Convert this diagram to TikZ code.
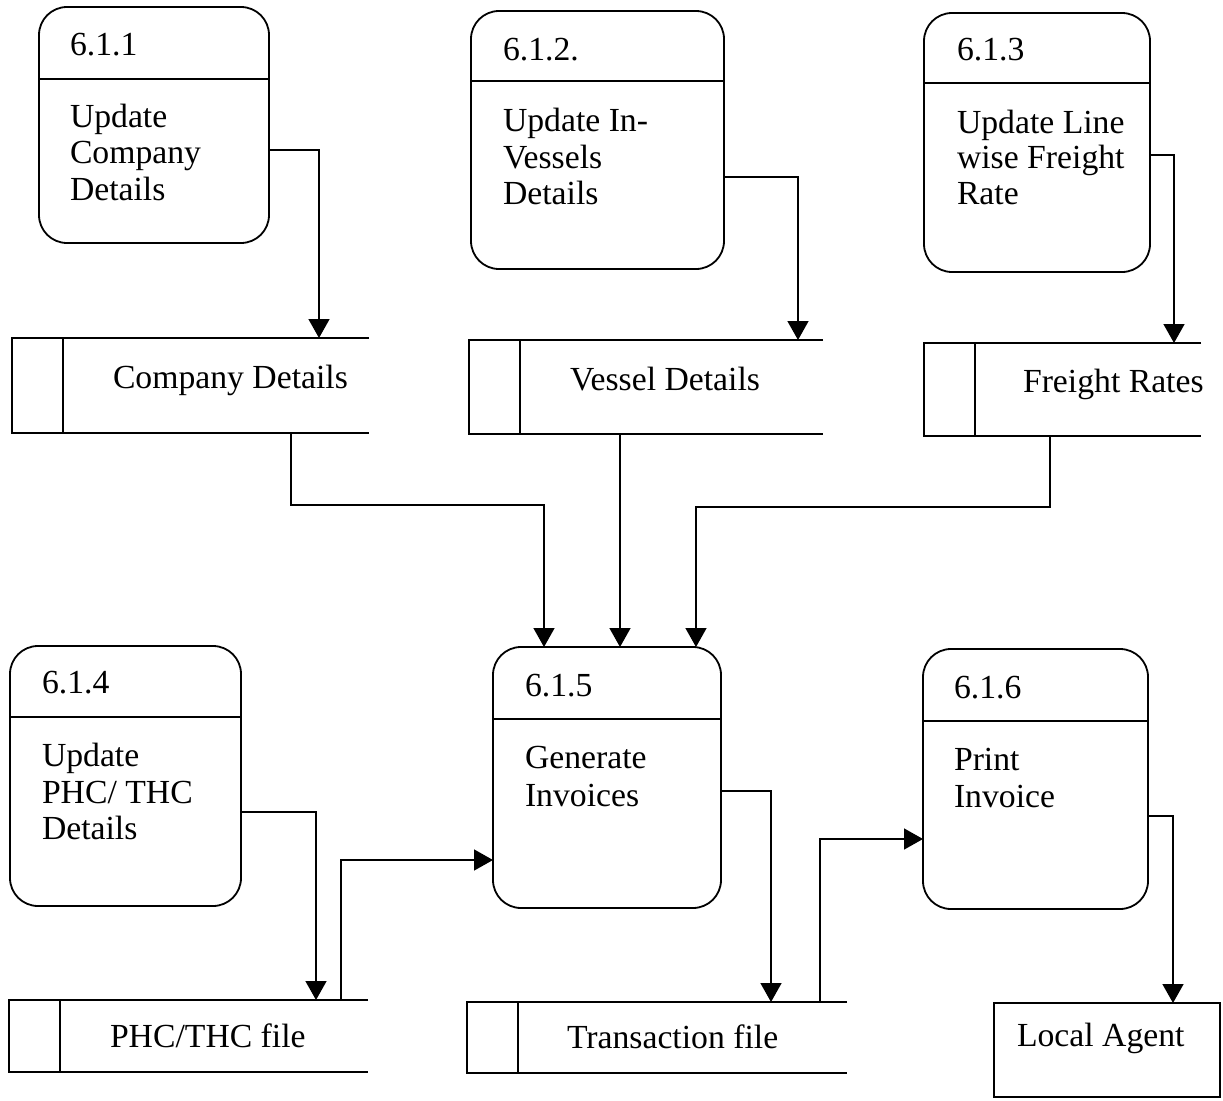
\documentclass[tikz,border=0pt]{standalone}
\usepackage{fontspec}
\setmainfont{Liberation Serif}
\usetikzlibrary{arrows.meta}

\tikzset{
  proc/.style={draw, line width=1.8pt, rounded corners=28pt, inner sep=0pt, outer sep=0pt},
  storebox/.style={inner sep=0pt, outer sep=0pt},
  storeline/.style={line width=1.8pt},
  entity/.style={draw, line width=1.8pt, inner sep=0pt, outer sep=0pt},
  divider/.style={line width=1.6pt},
  lbl/.style={font=\fontsize{33.7}{36}\selectfont, inner sep=0pt, outer sep=0pt, anchor=base west},
  flow/.style={line width=1.5pt, -{Triangle[length=19pt,width=21pt]}},
}

\begin{document}
\begin{tikzpicture}[x=1pt, y=-1pt]
\useasboundingbox[fill=white] (0,0) rectangle (1223,1100);

% ---------- processes ----------
\node[proc, minimum width=230pt, minimum height=236pt] (p1) at (154,125) {};
\node[proc, minimum width=253pt, minimum height=258pt] (p2) at (597.5,140) {};
\node[proc, minimum width=226pt, minimum height=259pt] (p3) at (1037,142.5) {};
\node[proc, minimum width=231pt, minimum height=260pt] (p4) at (125.5,776) {};
\node[proc, minimum width=228pt, minimum height=261pt] (p5) at (607,777.5) {};
\node[proc, minimum width=225pt, minimum height=260pt] (p6) at (1035.5,779) {};

\draw[divider] (p1.west |- 0,79)  -- (p1.east |- 0,79);
\draw[divider] (p2.west |- 0,81)  -- (p2.east |- 0,81);
\draw[divider] (p3.west |- 0,83)  -- (p3.east |- 0,83);
\draw[divider] (p4.west |- 0,717) -- (p4.east |- 0,717);
\draw[divider] (p5.west |- 0,719) -- (p5.east |- 0,719);
\draw[divider] (p6.west |- 0,721) -- (p6.east |- 0,721);

\node[lbl] (p1id) at (70,55) {6.1.1};
\node[lbl] (p1a) at (70,127) {Update};
\node[lbl] (p1b) at (70,163) {Company};
\node[lbl] (p1c) at (70,200) {Details};

\node[lbl] (p2id) at (503,60) {6.1.2.};
\node[lbl] (p2a) at (503,131) {Update In-};
\node[lbl] (p2b) at (503,168) {Vessels};
\node[lbl] (p2c) at (503,204) {Details};

\node[lbl] (p3id) at (957,60) {6.1.3};
\node[lbl] (p3a) at (957,133) {Update Line};
\node[lbl] (p3b) at (957,168) {wise Freight};
\node[lbl] (p3c) at (957,204) {Rate};

\node[lbl] (p4id) at (42,693) {6.1.4};
\node[lbl] (p4a) at (42,766) {Update};
\node[lbl] (p4b) at (42,803) {PHC/ THC};
\node[lbl] (p4c) at (42,839) {Details};

\node[lbl] (p5id) at (525,696) {6.1.5};
\node[lbl] (p5a) at (525,768) {Generate};
\node[lbl] (p5b) at (525,806) {Invoices};

\node[lbl] (p6id) at (954,698) {6.1.6};
\node[lbl] (p6a) at (954,770) {Print};
\node[lbl] (p6b) at (954,807) {Invoice};

% ---------- data stores (open on the right) ----------
\node[storebox, minimum width=357pt, minimum height=95pt] (s1) at (190.5,385.5) {};
\node[storebox, minimum width=354pt, minimum height=94pt] (s2) at (646,387) {};
\node[storebox, minimum width=277pt, minimum height=93pt] (s3) at (1062.5,389.5) {};
\node[storebox, minimum width=359pt, minimum height=72pt] (s4) at (188.5,1036) {};
\node[storebox, minimum width=380pt, minimum height=71pt] (s5) at (657,1037.5) {};

\foreach \s in {s1,s2,s3,s4,s5}{
  \draw[storeline] (\s.north east) -- (\s.north west) -- (\s.south west) -- (\s.south east);
  \draw[storeline] ([xshift=51pt]\s.north west) -- ([xshift=51pt]\s.south west);
}

\node[lbl] (s1t) at (113,388) {Company Details};
\node[lbl] (s2t) at (570,390) {Vessel Details};
\node[lbl] (s3t) at (1023,392) {Freight Rates};
\node[lbl] (s4t) at (110,1047) {PHC/THC file};
\node[lbl] (s5t) at (567,1048) {Transaction file};

% ---------- external entity ----------
\node[entity, minimum width=226pt, minimum height=94pt] (la) at (1107,1050) {};
\node[lbl] (lat) at (1017,1046) {Local Agent};

% ---------- data flows ----------
\draw[flow] (p1.east |- 0,150) -| (s1.north -| 319,0);
\draw[flow] (p2.east |- 0,177) -| (s2.north -| 798,0);
\draw[flow] (p3.east |- 0,155) -| (s3.north -| 1174,0);

\draw[flow] (s1.south -| 291,0) -- (291,505) -| (p5.north -| 544,0);
\draw[flow] (s2.south -| 620,0) -- (p5.north -| 620,0);
\draw[flow] (s3.south -| 1050,0) -- (1050,507) -| (p5.north -| 696,0);

\draw[flow] (p4.east |- 0,812) -| (s4.north -| 316,0);
\draw[flow] (s4.north -| 341,0) |- (p5.west |- 0,860);
\draw[flow] (p5.east |- 0,791) -| (s5.north -| 771,0);
\draw[flow] (s5.north -| 820,0) |- (p6.west |- 0,839);
\draw[flow] (p6.east |- 0,816) -| (la.north -| 1173,0);
\end{tikzpicture}
\end{document}
